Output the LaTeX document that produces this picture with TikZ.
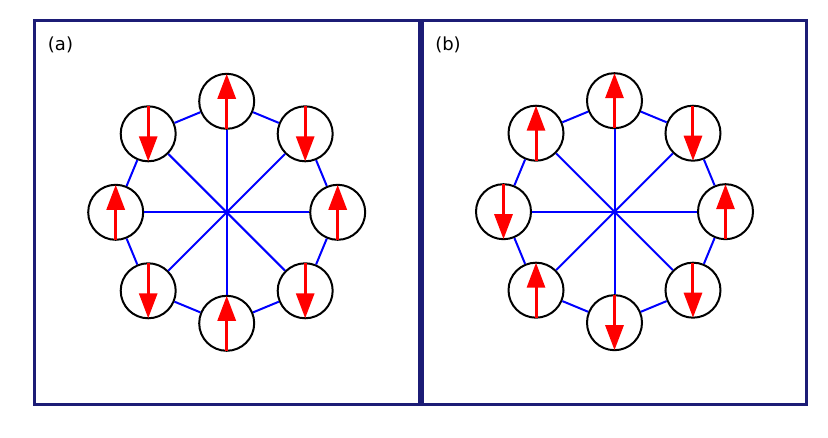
\documentclass[tikz,border=0pt]{standalone}
\usepackage{fontspec}
\setsansfont{DejaVu Sans}
\usetikzlibrary{arrows.meta}
\definecolor{framenavy}{RGB}{28,28,118}

\begin{document}
\begin{tikzpicture}[x=1pt,y=-1pt,>={Triangle[length=25pt,width=18pt]},
    spin node/.style={circle,draw,line width=2pt,minimum size=55pt,inner sep=0pt,fill=white},
    link/.style={blue,line width=2pt},
    spin/.style={->,red,line width=3pt,shorten <=1pt,shorten >=1pt},
    panel/.style={draw=framenavy,line width=3pt},
    tag/.style={font=\sffamily\fontsize{18}{21}\selectfont}]

    \useasboundingbox (0,0) rectangle (828,438);

    % frames and labels
    \draw[panel] (34,20.5) rectangle (419,405);
    \draw[panel] (422.5,20.5) rectangle (806.5,405);
    \node[tag] (la) at (60.5,44.5) {(a)};
    \node[tag] (lb) at (448,44.5) {(b)};

    \coordinate (ac) at (226.7,212.3);
    \coordinate (bc) at (614.5,211.7);

    % sites
    \foreach \k in {0,...,7}{
        \node[spin node] (a\k) at ([shift={(45*\k-90:111)}]ac) {};
        \node[spin node] (b\k) at ([shift={(45*\k-90:111)}]bc) {};
    }

    % bonds
    \foreach \k [evaluate=\k as \j using {int(mod(\k+1,8))}] in {0,...,7}{
        \draw[link] (ac) -- (a\k);
        \draw[link] (bc) -- (b\k);
        \draw[link] (a\k) -- (a\j);
        \draw[link] (b\k) -- (b\j);
    }

    % spins
    \foreach \k/\p/\q in {0/south/north,1/north/south,2/south/north,3/north/south,
                          4/south/north,5/north/south,6/south/north,7/north/south}
        \draw[spin] (a\k.\p) -- (a\k.\q);
    \foreach \k/\p/\q in {0/south/north,1/north/south,2/south/north,3/north/south,
                          4/north/south,5/south/north,6/north/south,7/south/north}
        \draw[spin] (b\k.\p) -- (b\k.\q);

\end{tikzpicture}
\end{document}
